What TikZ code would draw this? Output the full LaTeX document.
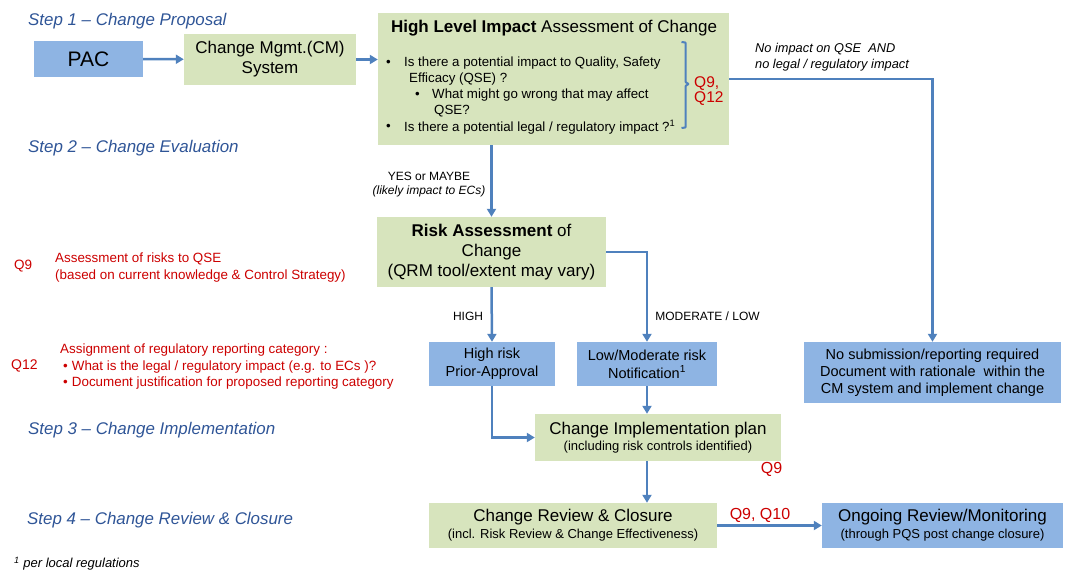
\documentclass[tikz,border=0pt]{standalone}
\usepackage{fontspec}
\setmainfont{Liberation Sans}
\definecolor{boxgreen}{RGB}{215,228,189}
\definecolor{boxblue}{RGB}{142,180,227}
\definecolor{flowblue}{RGB}{79,129,189}
\definecolor{stepblue}{RGB}{47,85,151}
\definecolor{notered}{RGB}{204,0,0}
\usetikzlibrary{
  arrows.meta,
  calc,
  positioning,
}
\tikzset{
  >={Triangle[width=9pt,length=8pt]},
}

\begin{document}
\begin{tikzpicture}[x=1pt, y=-1pt,
    box/.style={inner sep=0pt, align=center, font=\fontsize{17}{20}\selectfont},
    greenbox/.style={box, fill=boxgreen},
    bluebox/.style={box, fill=boxblue},
    item/.style={anchor=west, inner sep=0pt, font=\fontsize{13.3}{16}\selectfont},
    steplabel/.style={anchor=west, inner sep=0pt, text=stepblue,
                      font=\fontsize{16.9}{20}\selectfont\itshape},
    note/.style={anchor=west, inner sep=0pt, text=notered, align=left,
                 font=\fontsize{13.4}{16.5}\selectfont},
    qref/.style={inner sep=0pt, text=notered, font=\fontsize{16}{19}\selectfont},
    flowlabel/.style={inner sep=0pt, align=center, font=\fontsize{12}{14}\selectfont},
    flow/.style={->, draw=flowblue, line width=2.5pt}]
  \useasboundingbox (0,0) rectangle (1067,571);

  % step titles
  \node [steplabel] (step1) at (28,21) {Step 1 -- Change Proposal};
  \node [steplabel] (step2) at (28,148) {Step 2 -- Change Evaluation};
  \node [steplabel] (step3) at (28,430) {Step 3 -- Change Implementation};
  \node [steplabel] (step4) at (27,520) {Step 4 -- Change Review \& Closure};

  % step 1
  \node [bluebox, minimum width=109, minimum height=36,
         font=\fontsize{21}{24}\selectfont] (pac) at (88.5,59) {PAC};
  \node [greenbox, minimum width=172, minimum height=51] (cms) at (270,59.5)
        {Change Mgmt.(CM)\\System};
  \node [greenbox, minimum width=351, minimum height=132] (hli) at (553.5,79) {};
  \node [inner sep=0pt, font=\fontsize{17}{20}\selectfont] (hlititle) at (554,28)
        {\textbf{High Level Impact} Assessment of Change};
  \node [item] (ba) at (386,63) {\textbullet};
  \node [item] (qa) at (404,63) {Is there a potential impact to Quality, Safety};
  \node [item] (qb) at (409,79) {Efficacy (QSE) ?};
  \node [item] (bc) at (415,95) {\textbullet};
  \node [item] (qc) at (432,95) {What might go wrong that may affect};
  \node [item] (qd) at (434,111) {QSE?};
  \node [item] (be) at (386,127) {\textbullet};
  \node [item] (qe) at (404,127) {Is there a potential legal / regulatory impact ?\textsuperscript{1}};
  \draw [flowblue, line width=2pt, rounded corners=0.6pt]
        (681.5,42) -- (685.5,42.5) -- (685.5,82) -- (688.5,84) -- (685.5,86)
        -- (685.5,127.5) -- (681.5,128);
  \node [qref, anchor=west, align=left, font=\fontsize{15.5}{15}\selectfont]
        (qhli) at (694,91) {Q9,\\Q12};
  \node [anchor=west, inner sep=0pt, align=left,
         font=\fontsize{12.8}{16}\selectfont\itshape] (noimpact) at (755,57)
        {No impact on QSE\ \ AND\\no legal / regulatory impact};

  % step 2
  \node [flowlabel] (yes) at (429,185) {YES or MAYBE\\\textit{(likely impact to ECs)}};
  \node [greenbox, minimum width=229, minimum height=70] (risk) at (491.5,252)
        {\textbf{Risk Assessment} of\\Change\\(QRM tool/extent may vary)};
  \node [qref, anchor=west, font=\fontsize{13.5}{16}\selectfont] (qnine) at (14,266) {Q9};
  \node [note] (risknote) at (55,267.5)
        {Assessment of risks to QSE\\(based on current knowledge \& Control Strategy)};
  \node [flowlabel] (highlabel) at (468,316) {HIGH};
  \node [flowlabel] (lowlabel) at (707.5,316) {MODERATE / LOW};
  \node [bluebox, minimum width=126, minimum height=44,
         font=\fontsize{14.5}{18}\selectfont] (high) at (492,364)
        {High risk\\Prior-Approval};
  \node [bluebox, minimum width=140, minimum height=44,
         font=\fontsize{14.5}{18}\selectfont] (lowmod) at (647,364)
        {Low/Moderate risk\\Notification\textsuperscript{1}};
  \node [bluebox, minimum width=257, minimum height=61,
         font=\fontsize{14.5}{17}\selectfont] (nosub) at (932.5,372.5)
        {No submission/reporting required\\Document with rationale\ \ within the\\CM system and implement change};
  \node [qref, anchor=west, font=\fontsize{14}{16}\selectfont] (qtwelve) at (11,366) {Q12};
  \node [note] (regnote) at (60,367)
        {Assignment of regulatory reporting category :\\
         \hspace{3pt}\textbullet\hspace{4pt}What is the legal / regulatory impact (e.g. to ECs )?\\
         \hspace{3pt}\textbullet\hspace{4pt}Document justification for proposed reporting category};

  % steps 3 and 4
  \node [greenbox, minimum width=246, minimum height=47,
         font=\fontsize{17}{16}\selectfont] (impl) at (658,437.5)
        {Change Implementation plan\\{\fontsize{13}{16}\selectfont (including risk controls identified)}};
  \node [qref] (qimpl) at (771.5,469) {Q9};
  \node [greenbox, minimum width=288, minimum height=45,
         font=\fontsize{17}{17}\selectfont] (review) at (573,525.5)
        {Change Review \& Closure\\{\fontsize{13}{17}\selectfont (incl. Risk Review \& Change Effectiveness)}};
  \node [bluebox, minimum width=241, minimum height=45,
         font=\fontsize{17}{17}\selectfont] (ongoing) at (942.5,525.5)
        {Ongoing Review/Monitoring\\{\fontsize{13}{17}\selectfont (through PQS post change closure)}};
  \node [qref] (qreview) at (760,515) {Q9, Q10};
  \node [anchor=west, inner sep=0pt, font=\fontsize{13}{16}\selectfont\itshape]
        (footnote) at (14,564) {\textsuperscript{1} per local regulations};

  % connectors
  \draw [flow] (pac) -- (cms);
  \draw [flow] (cms) -- (cms -| hli.west);
  \draw [flow] (hli.east) -| (nosub.north);
  \draw [flow] (risk.north |- hli.south) -- (risk.north);
  \draw [flow] (risk.east) -| (lowmod.north);
  \draw [flow] (risk.south) -- (high.north);
  \draw [flow] (high.south) |- (impl.west);
  \draw [flow] (lowmod.south) -- (lowmod.south |- impl.north);
  \draw [flow] (lowmod.south |- impl.south) -- (lowmod.south |- review.north);
  \draw [flow] (review) -- (ongoing);
\end{tikzpicture}
\end{document}
